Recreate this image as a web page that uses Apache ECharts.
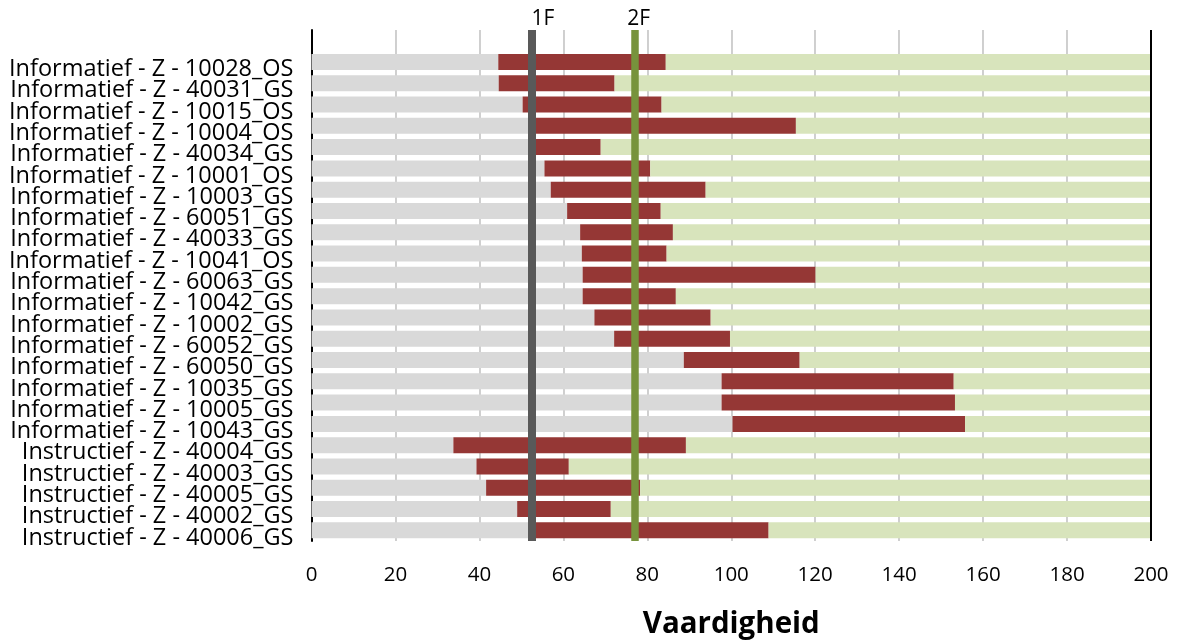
<!DOCTYPE html>
<html>
<head>
<meta charset="utf-8">
<script src="https://cdn.jsdelivr.net/npm/echarts@6/dist/echarts.min.js"></script>
<style>
  html, body { margin: 0; padding: 0; background: #ffffff; }
  #chart { width: 1179px; height: 641px; }
</style>
</head>
<body>
<div id="chart"></div>
<script>
// Texts, top to bottom
const categories = [
  'Informatief - Z - 10028_OS',
  'Informatief - Z - 40031_GS',
  'Informatief - Z - 10015_OS',
  'Informatief - Z - 10004_OS',
  'Informatief - Z - 40034_GS',
  'Informatief - Z - 10001_OS',
  'Informatief - Z - 10003_GS',
  'Informatief - Z - 60051_GS',
  'Informatief - Z - 40033_GS',
  'Informatief - Z - 10041_OS',
  'Informatief - Z - 60063_GS',
  'Informatief - Z - 10042_GS',
  'Informatief - Z - 10002_GS',
  'Informatief - Z - 60052_GS',
  'Informatief - Z - 60050_GS',
  'Informatief - Z - 10035_GS',
  'Informatief - Z - 10005_GS',
  'Informatief - Z - 10043_GS',
  'Instructief - Z - 40004_GS',
  'Instructief - Z - 40003_GS',
  'Instructief - Z - 40005_GS',
  'Instructief - Z - 40002_GS',
  'Instructief - Z - 40006_GS'
];

// Lower and upper bound of each text's skill range
const rangeStart = [44.5, 44.6, 50.3, 53.0, 53.0, 55.5, 57.0, 60.9, 64.0, 64.4, 64.6, 64.6,
                    67.4, 72.1, 88.7, 97.7, 97.7, 100.3, 33.8, 39.3, 41.6, 49.0, 53.0];
const rangeEnd   = [84.4, 72.2, 83.4, 115.4, 68.9, 80.7, 93.9, 83.2, 86.1, 84.6, 120.1, 86.8,
                    95.1, 99.7, 116.3, 153.0, 153.3, 155.7, 89.2, 61.3, 78.3, 71.3, 108.9];

// Scale maximum and reference levels
const scaleMax = 200;
const levelNames  = ['1F', '2F'];
const levelValues = [52.5, 77];

const FONT = '"Open Sans", sans-serif';

// An empty slot above the first row leaves room for the level labels
const yCats = [''].concat(categories);
const greyPart  = [null].concat(rangeStart);
const redPart   = [null].concat(rangeEnd.map((e, i) => +(e - rangeStart[i]).toFixed(2)));
const greenPart = [null].concat(rangeEnd.map(e => +(scaleMax - e).toFixed(2)));

const chart = echarts.init(document.getElementById('chart'), null, { renderer: 'canvas' });

const barBase = { type: 'bar', stack: 'range', barWidth: 16, silent: true };

chart.setOption({
  animation: false,
  backgroundColor: '#ffffff',
  grid: { left: 311.5, right: 28, top: 30, bottom: 100, containLabel: false, outerBoundsMode: 'none' },
  xAxis: {
    type: 'value',
    min: 0,
    max: scaleMax,
    interval: 20,
    axisLine: { show: false },
    axisTick: { show: false },
    splitLine: { show: true, lineStyle: { color: '#c4c4c4', width: 1.6 } },
    axisLabel: { color: '#000', fontSize: 20.5, fontFamily: FONT, margin: 24 },
    name: 'Vaardigheid',
    nameLocation: 'middle',
    nameGap: 69,
    nameTextStyle: { color: '#000', fontSize: 29.5, fontWeight: 'bold', fontFamily: FONT }
  },
  yAxis: {
    type: 'category',
    inverse: true,
    data: yCats,
    axisLine: { show: true, lineStyle: { color: '#000', width: 2 } },
    axisTick: { show: false },
    splitLine: { show: false },
    // labels sit slightly below their row
    axisLabel: { color: '#000', fontSize: 23.5, fontFamily: FONT, margin: 18, interval: 0,
                 verticalAlign: 'top', lineHeight: 15 }
  },
  series: [
    Object.assign({}, barBase, { name: 'onder', data: greyPart,  itemStyle: { color: '#d9d9d9' } }),
    Object.assign({}, barBase, { name: 'bereik', data: redPart,  itemStyle: { color: '#953735' } }),
    Object.assign({}, barBase, { name: 'boven', data: greenPart, itemStyle: { color: '#d8e4bc' } }),
    {
      type: 'line',
      data: [],
      z: 10,
      silent: true,
      markLine: {
        symbol: 'none',
        silent: true,
        animation: false,
        data: [
          {
            xAxis: levelValues[0],
            lineStyle: { color: '#595959', width: 8, type: 'solid' },
            label: { show: true, formatter: levelNames[0], position: 'start', distance: 0, offset: [11, 0],
                     color: '#000', fontSize: 21, fontFamily: FONT }
          },
          {
            xAxis: levelValues[1],
            lineStyle: { color: '#77933c', width: 7.5, type: 'solid' },
            label: { show: true, formatter: levelNames[1], position: 'start', distance: 0, offset: [4, 0],
                     color: '#000', fontSize: 21, fontFamily: FONT }
          },
          {
            xAxis: scaleMax,
            lineStyle: { color: '#000', width: 2, type: 'solid' },
            label: { show: false }
          }
        ]
      }
    }
  ]
});
</script>
</body>
</html>
